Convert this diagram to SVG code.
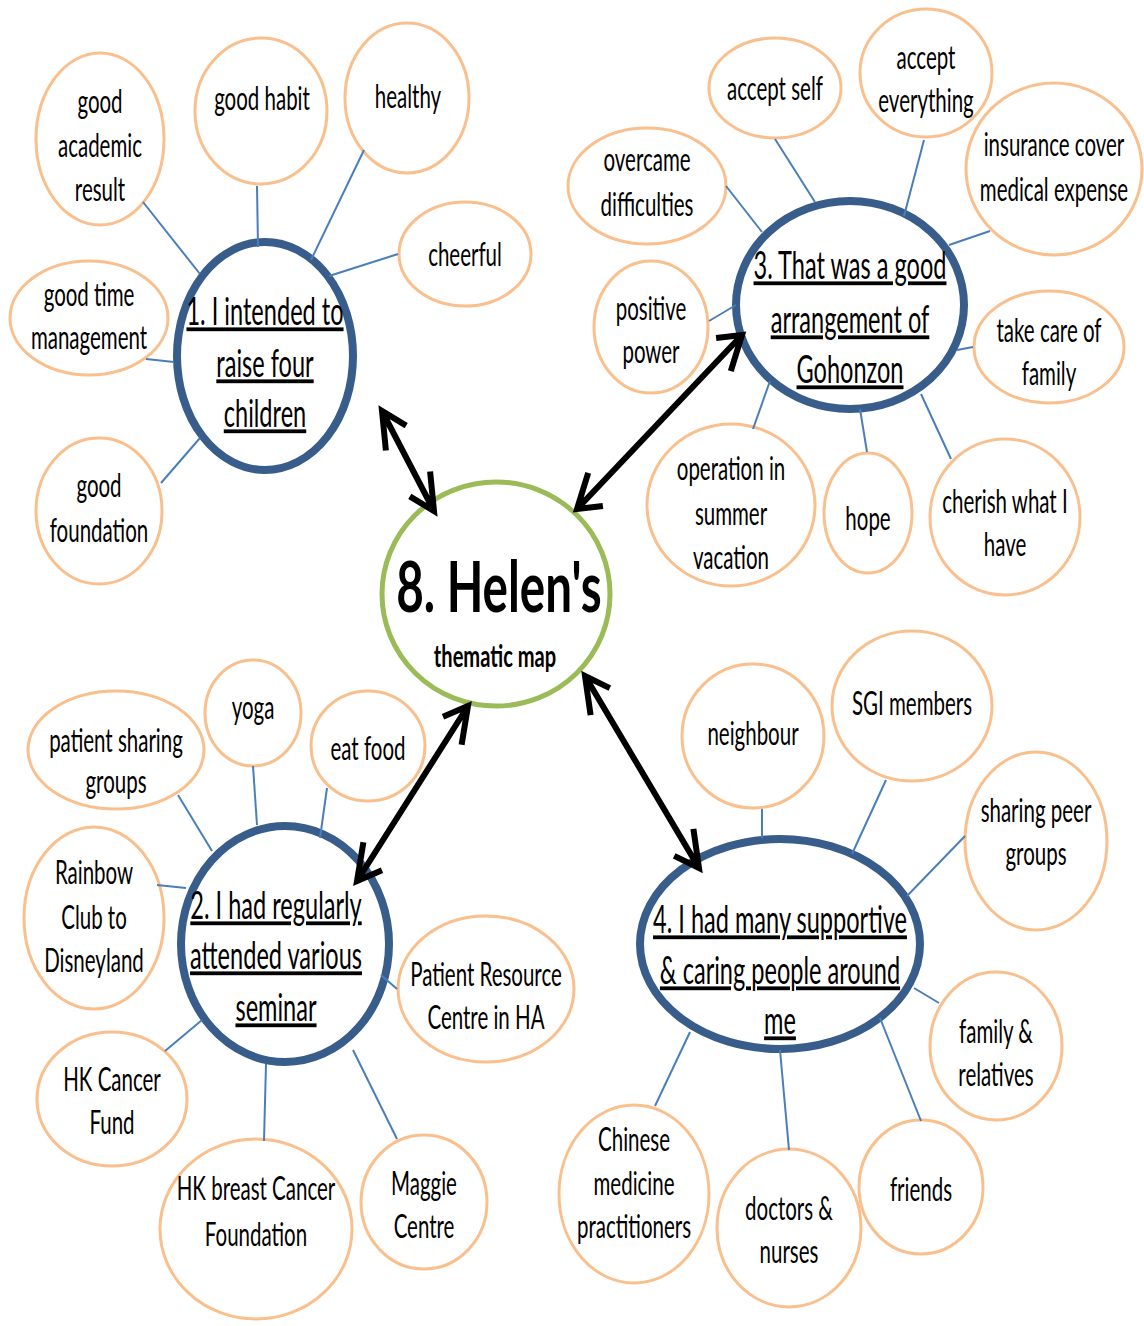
<svg xmlns="http://www.w3.org/2000/svg" width="1144" height="1326" viewBox="0 0 1144 1326">
<style>
  .leaf { fill: #fff; stroke: #F9BF8D; stroke-width: 3; }
  .hub { fill: #fff; stroke: #385D8A; stroke-width: 8; }
  .core { fill: #fff; stroke: #9BBB59; stroke-width: 5; }
  .t { font-family: Lato, "Liberation Sans", sans-serif; font-size: 32px; fill: #000; text-anchor: middle; }
  .th { font-family: Lato, "Liberation Sans", sans-serif; font-size: 38px; fill: #000; text-anchor: middle; text-decoration: underline; }
  .tc { font-family: Lato, "Liberation Sans", sans-serif; font-weight: bold; fill: #000; text-anchor: middle; }
  .link { stroke: #4A7EBB; stroke-width: 2; fill: none; }
  .arrow { stroke: #000; stroke-width: 6; fill: none; stroke-linejoin: miter; }
</style>
<rect width="1144" height="1326" fill="#fff"/>

<!-- central topic -->
<g id="core">
  <ellipse class="core" cx="496" cy="594" rx="114" ry="112"/>
  <text class="tc" transform="translate(499,0) scale(0.68,1)" font-size="70"><tspan x="0" y="612">8. Helen's</tspan></text>
  <text class="tc" transform="translate(495,0) scale(0.67,1)" font-size="30"><tspan x="0" y="667">thematic map</tspan></text>
</g>

<!-- theme 1 -->
<g id="hub1">
  <ellipse class="hub" cx="265" cy="356" rx="88" ry="114"/>
  <text class="th" transform="translate(265,0) scale(0.62,1)"><tspan x="0" y="325">1. I intended to</tspan><tspan x="0" y="377">raise four</tspan><tspan x="0" y="427">children</tspan></text>
</g>
<g id="good-academic">
  <ellipse class="leaf" cx="100" cy="139" rx="64" ry="86"/>
  <text class="t" transform="translate(100,0) scale(0.64,1)"><tspan x="0" y="113">good</tspan><tspan x="0" y="157">academic</tspan><tspan x="0" y="201">result</tspan></text>
</g>
<g id="good-habit">
  <ellipse class="leaf" cx="261" cy="111" rx="66" ry="73"/>
  <text class="t" transform="translate(262,0) scale(0.64,1)"><tspan x="0" y="110">good habit</tspan></text>
</g>
<g id="healthy">
  <ellipse class="leaf" cx="407" cy="98" rx="62" ry="75"/>
  <text class="t" transform="translate(408,0) scale(0.64,1)"><tspan x="0" y="108">healthy</tspan></text>
</g>
<g id="cheerful">
  <ellipse class="leaf" cx="465" cy="254" rx="66" ry="52"/>
  <text class="t" transform="translate(465,0) scale(0.64,1)"><tspan x="0" y="266">cheerful</tspan></text>
</g>
<g id="good-time">
  <ellipse class="leaf" cx="89" cy="318" rx="79" ry="57"/>
  <text class="t" transform="translate(89,0) scale(0.64,1)"><tspan x="0" y="306">good time</tspan><tspan x="0" y="349">management</tspan></text>
</g>
<g id="good-foundation">
  <ellipse class="leaf" cx="99" cy="511" rx="63" ry="73"/>
  <text class="t" transform="translate(99,0) scale(0.64,1)"><tspan x="0" y="497">good</tspan><tspan x="0" y="542">foundation</tspan></text>
</g>

<!-- theme 3 -->
<g id="hub3">
  <ellipse class="hub" cx="850" cy="305" rx="114" ry="104"/>
  <text class="th" transform="translate(850,0) scale(0.62,1)"><tspan x="0" y="279">3. That was a good</tspan><tspan x="0" y="333">arrangement of</tspan><tspan x="0" y="383">Gohonzon</tspan></text>
</g>
<g id="accept-self">
  <ellipse class="leaf" cx="775" cy="88" rx="66" ry="50"/>
  <text class="t" transform="translate(775,0) scale(0.64,1)"><tspan x="0" y="100">accept self</tspan></text>
</g>
<g id="accept-everything">
  <ellipse class="leaf" cx="926" cy="73" rx="66" ry="64"/>
  <text class="t" transform="translate(926,0) scale(0.64,1)"><tspan x="0" y="69">accept</tspan><tspan x="0" y="112">everything</tspan></text>
</g>
<g id="insurance">
  <ellipse class="leaf" cx="1054" cy="169" rx="88" ry="86"/>
  <text class="t" transform="translate(1054,0) scale(0.64,1)"><tspan x="0" y="156">insurance cover</tspan><tspan x="0" y="201">medical expense</tspan></text>
</g>
<g id="overcame">
  <ellipse class="leaf" cx="647" cy="186" rx="79" ry="58"/>
  <text class="t" transform="translate(647,0) scale(0.64,1)"><tspan x="0" y="171">overcame</tspan><tspan x="0" y="216">difficulties</tspan></text>
</g>
<g id="positive-power">
  <ellipse class="leaf" cx="651" cy="327" rx="57" ry="66"/>
  <text class="t" transform="translate(651,0) scale(0.64,1)"><tspan x="0" y="320">positive</tspan><tspan x="0" y="363">power</tspan></text>
</g>
<g id="take-care">
  <ellipse class="leaf" cx="1049" cy="347" rx="75" ry="56"/>
  <text class="t" transform="translate(1049,0) scale(0.64,1)"><tspan x="0" y="342">take care of</tspan><tspan x="0" y="385">family</tspan></text>
</g>
<g id="operation">
  <ellipse class="leaf" cx="731" cy="505" rx="84" ry="81"/>
  <text class="t" transform="translate(731,0) scale(0.64,1)"><tspan x="0" y="480">operation in</tspan><tspan x="0" y="525">summer</tspan><tspan x="0" y="569">vacation</tspan></text>
</g>
<g id="hope">
  <ellipse class="leaf" cx="868" cy="513" rx="44" ry="60"/>
  <text class="t" transform="translate(868,0) scale(0.64,1)"><tspan x="0" y="530">hope</tspan></text>
</g>
<g id="cherish">
  <ellipse class="leaf" cx="1005" cy="517" rx="75" ry="78"/>
  <text class="t" transform="translate(1005,0) scale(0.64,1)"><tspan x="0" y="513">cherish what I</tspan><tspan x="0" y="556">have</tspan></text>
</g>

<!-- theme 2 -->
<g id="hub2">
  <ellipse class="hub" cx="285" cy="944" rx="104" ry="118"/>
  <text class="th" transform="translate(276,0) scale(0.62,1)"><tspan x="0" y="919">2. I had regularly</tspan><tspan x="0" y="969">attended various</tspan><tspan x="0" y="1021">seminar</tspan></text>
</g>
<g id="patient-sharing">
  <ellipse class="leaf" cx="116" cy="750" rx="88" ry="59"/>
  <text class="t" transform="translate(116,0) scale(0.64,1)"><tspan x="0" y="752">patient sharing</tspan><tspan x="0" y="793">groups</tspan></text>
</g>
<g id="yoga">
  <ellipse class="leaf" cx="253" cy="713" rx="48" ry="53"/>
  <text class="t" transform="translate(253,0) scale(0.64,1)"><tspan x="0" y="719">yoga</tspan></text>
</g>
<g id="eat-food">
  <ellipse class="leaf" cx="368" cy="746" rx="57" ry="55"/>
  <text class="t" transform="translate(368,0) scale(0.64,1)"><tspan x="0" y="760">eat food</tspan></text>
</g>
<g id="rainbow">
  <ellipse class="leaf" cx="94" cy="918" rx="70" ry="91"/>
  <text class="t" transform="translate(94,0) scale(0.64,1)"><tspan x="0" y="884">Rainbow</tspan><tspan x="0" y="929">Club to</tspan><tspan x="0" y="972">Disneyland</tspan></text>
</g>
<g id="patient-resource">
  <ellipse class="leaf" cx="486" cy="989" rx="88" ry="73"/>
  <text class="t" transform="translate(486,0) scale(0.64,1)"><tspan x="0" y="986">Patient Resource</tspan><tspan x="0" y="1029">Centre in HA</tspan></text>
</g>
<g id="hk-cancer-fund">
  <ellipse class="leaf" cx="112" cy="1099" rx="75" ry="67"/>
  <text class="t" transform="translate(112,0) scale(0.64,1)"><tspan x="0" y="1091">HK Cancer</tspan><tspan x="0" y="1134">Fund</tspan></text>
</g>
<g id="hk-breast">
  <ellipse class="leaf" cx="256" cy="1229" rx="96" ry="90"/>
  <text class="t" transform="translate(256,0) scale(0.64,1)"><tspan x="0" y="1200">HK breast Cancer</tspan><tspan x="0" y="1246">Foundation</tspan></text>
</g>
<g id="maggie">
  <ellipse class="leaf" cx="424" cy="1202" rx="63" ry="67"/>
  <text class="t" transform="translate(424,0) scale(0.64,1)"><tspan x="0" y="1195">Maggie</tspan><tspan x="0" y="1238">Centre</tspan></text>
</g>

<!-- theme 4 -->
<g id="hub4">
  <ellipse class="hub" cx="780" cy="944" rx="140" ry="105"/>
  <text class="th" transform="translate(780,0) scale(0.62,1)"><tspan x="0" y="933">4. I had many supportive</tspan><tspan x="0" y="984">&amp; caring people around</tspan><tspan x="0" y="1034">me</tspan></text>
</g>
<g id="neighbour">
  <ellipse class="leaf" cx="753" cy="736" rx="71" ry="72"/>
  <text class="t" transform="translate(753,0) scale(0.64,1)"><tspan x="0" y="745">neighbour</tspan></text>
</g>
<g id="sgi">
  <ellipse class="leaf" cx="912" cy="706" rx="80" ry="75"/>
  <text class="t" transform="translate(912,0) scale(0.64,1)"><tspan x="0" y="715">SGI members</tspan></text>
</g>
<g id="sharing-peer">
  <ellipse class="leaf" cx="1036" cy="841" rx="71" ry="89"/>
  <text class="t" transform="translate(1036,0) scale(0.64,1)"><tspan x="0" y="822">sharing peer</tspan><tspan x="0" y="865">groups</tspan></text>
</g>
<g id="family">
  <ellipse class="leaf" cx="996" cy="1046" rx="66" ry="74"/>
  <text class="t" transform="translate(996,0) scale(0.64,1)"><tspan x="0" y="1043">family &amp;</tspan><tspan x="0" y="1086">relatives</tspan></text>
</g>
<g id="chinese-medicine">
  <ellipse class="leaf" cx="634" cy="1194" rx="75" ry="89"/>
  <text class="t" transform="translate(634,0) scale(0.64,1)"><tspan x="0" y="1151">Chinese</tspan><tspan x="0" y="1195">medicine</tspan><tspan x="0" y="1238">practitioners</tspan></text>
</g>
<g id="doctors">
  <ellipse class="leaf" cx="789" cy="1228" rx="72" ry="79"/>
  <text class="t" transform="translate(789,0) scale(0.64,1)"><tspan x="0" y="1220">doctors &amp;</tspan><tspan x="0" y="1263">nurses</tspan></text>
</g>
<g id="friends">
  <ellipse class="leaf" cx="921" cy="1187" rx="62" ry="67"/>
  <text class="t" transform="translate(921,0) scale(0.64,1)"><tspan x="0" y="1201">friends</tspan></text>
</g>

<!-- connectors -->
<g id="connectors">
  <!-- theme 1 spokes -->
  <line class="link" x1="143" y1="202" x2="200" y2="274"/>
  <line class="link" x1="257" y1="186" x2="258" y2="247"/>
  <line class="link" x1="364" y1="150" x2="311" y2="260"/>
  <line class="link" x1="398" y1="254" x2="329" y2="276"/>
  <line class="link" x1="146" y1="359" x2="174" y2="362"/>
  <line class="link" x1="161" y1="483" x2="200" y2="438"/>
  <!-- theme 3 spokes -->
  <line class="link" x1="775" y1="139" x2="815" y2="202"/>
  <line class="link" x1="924" y1="140" x2="904" y2="216"/>
  <line class="link" x1="990" y1="231" x2="949" y2="245"/>
  <line class="link" x1="726" y1="186" x2="762" y2="232"/>
  <line class="link" x1="709" y1="321" x2="736" y2="305"/>
  <line class="link" x1="973" y1="347" x2="957" y2="350"/>
  <line class="link" x1="753" y1="429" x2="770" y2="381"/>
  <line class="link" x1="867" y1="452" x2="860" y2="409"/>
  <line class="link" x1="951" y1="459" x2="921" y2="394"/>
  <!-- theme 2 spokes -->
  <line class="link" x1="178" y1="795" x2="212" y2="851"/>
  <line class="link" x1="253" y1="766" x2="257" y2="825"/>
  <line class="link" x1="327" y1="788" x2="320" y2="838"/>
  <line class="link" x1="157" y1="885" x2="186" y2="888"/>
  <line class="link" x1="397" y1="989" x2="381" y2="975"/>
  <line class="link" x1="165" y1="1051" x2="202" y2="1020"/>
  <line class="link" x1="264" y1="1141" x2="266" y2="1064"/>
  <line class="link" x1="397" y1="1139" x2="353" y2="1050"/>
  <!-- theme 4 spokes -->
  <line class="link" x1="762" y1="809" x2="762" y2="838"/>
  <line class="link" x1="886" y1="780" x2="852" y2="854"/>
  <line class="link" x1="965" y1="836" x2="907" y2="896"/>
  <line class="link" x1="939" y1="1003" x2="914" y2="988"/>
  <line class="link" x1="921" y1="1121" x2="880" y2="1018"/>
  <line class="link" x1="789" y1="1150" x2="780" y2="1050"/>
  <line class="link" x1="655" y1="1106" x2="690" y2="1032"/>

  <!-- double-headed arrows between the centre and each theme -->
  <path class="arrow" d="M382,411 L434,511 M385.9,450.5 L382,411 L406.2,425.6 M430.1,471.5 L434,511 L409.8,496.4"/>
  <path class="arrow" d="M742,335 L577,509 M716.1,338.1 L742,335 L730.8,371.1 M602.9,505.9 L577,509 L588.2,472.9"/>
  <path class="arrow" d="M468,706 L357,881 M443,716.8 L468,706 L461.6,744.8 M382,870.2 L357,881 L363.4,842.2"/>
  <path class="arrow" d="M585,676 L699,868 M590.6,715.1 L585,676 L609.8,688.1 M693.4,828.9 L699,868 L674.2,855.9"/>
</g>
</svg>
